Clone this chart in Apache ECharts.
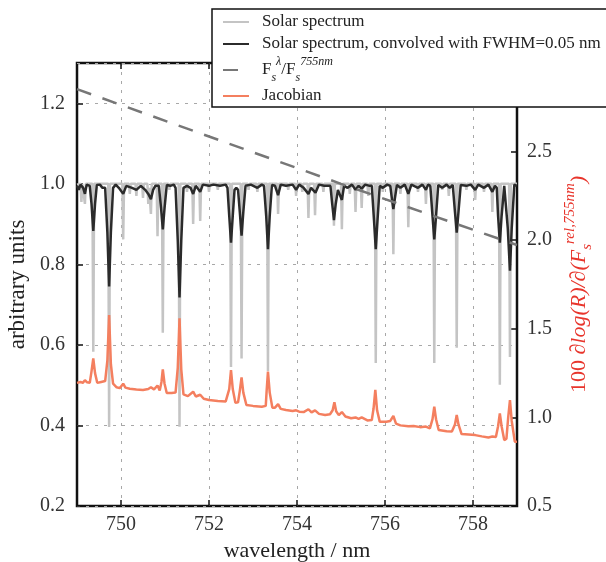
<!DOCTYPE html>
<html><head><meta charset="utf-8">
<script src="https://cdn.jsdelivr.net/npm/echarts@6/dist/echarts.min.js"></script>
<style>html,body{margin:0;padding:0;background:#fff}#c{width:606px;height:562px}</style>
</head><body><div id="c"></div>
<script>
// ---- data ----
const xTicks = [750, 752, 754, 756, 758];

// light grey: high-resolution solar spectrum [wavelength nm, arbitrary units]
const solarSpectrum = [
[749.0,0.998],[749.08,1.0],[749.10,0.955],[749.12,1.0],[749.16,1.0],[749.18,0.95],[749.20,1.0],
[749.35,1.0],[749.37,0.583],[749.39,1.0],[749.71,1.0],[749.73,0.396],[749.75,1.0],
[750.03,1.0],[750.05,0.862],[750.07,1.0],[750.18,1.0],[750.20,0.975],[750.22,1.0],
[750.33,1.0],[750.35,0.97],[750.37,1.0],[750.48,1.0],[750.50,0.965],[750.52,1.0],
[750.60,1.0],[750.62,0.95],[750.64,0.99],[750.68,0.925],[750.70,1.0],
[750.81,1.0],[750.83,0.87],[750.85,1.0],[750.93,1.0],[750.95,0.63],[750.97,1.0],
[751.08,1.0],[751.10,0.985],[751.12,1.0],[751.31,1.0],[751.33,0.397],[751.35,1.0],
[751.48,1.0],[751.50,0.98],[751.52,1.0],[751.62,1.0],[751.64,0.9],[751.66,1.0],
[751.78,1.0],[751.80,0.908],[751.82,1.0],[751.98,1.0],[752.00,0.98],[752.02,1.0],
[752.18,1.0],[752.20,0.985],[752.22,1.0],[752.48,1.0],[752.50,0.545],[752.52,1.0],
[752.72,1.0],[752.74,0.566],[752.76,1.0],[752.88,1.0],[752.90,0.985],[752.92,1.0],
[753.08,1.0],[753.10,0.98],[753.12,1.0],[753.32,1.0],[753.34,0.535],[753.36,1.0],
[753.55,1.0],[753.57,0.925],[753.59,1.0],[753.78,1.0],[753.80,0.985],[753.82,1.0],
[753.96,1.0],[753.98,0.97],[754.00,1.0],[754.10,1.0],[754.12,0.98],[754.14,1.0],
[754.24,1.0],[754.26,0.915],[754.28,1.0],[754.39,1.0],[754.41,0.922],[754.43,1.0],
[754.58,1.0],[754.60,0.98],[754.62,1.0],[754.82,1.0],[754.84,0.896],[754.86,1.0],
[755.00,1.0],[755.02,0.887],[755.04,1.0],[755.18,1.0],[755.20,0.975],[755.22,1.0],
[755.31,1.0],[755.33,0.93],[755.35,1.0],[755.45,1.0],[755.47,0.94],[755.49,1.0],
[755.60,1.0],[755.62,0.97],[755.64,1.0],[755.77,1.0],[755.79,0.555],[755.81,1.0],
[755.93,1.0],[755.95,0.98],[755.97,1.0],[756.17,1.0],[756.19,0.825],[756.21,1.0],
[756.33,1.0],[756.35,0.975],[756.37,1.0],[756.51,1.0],[756.53,0.892],[756.55,1.0],
[756.73,1.0],[756.75,0.98],[756.77,1.0],[756.91,1.0],[756.93,0.95],[756.95,1.0],
[757.10,1.0],[757.12,0.555],[757.14,1.0],[757.28,1.0],[757.30,0.985],[757.32,1.0],
[757.43,1.0],[757.45,0.97],[757.47,1.0],[757.61,1.0],[757.63,0.593],[757.65,1.0],
[757.83,1.0],[757.85,0.985],[757.87,1.0],[758.03,1.0],[758.05,0.96],[758.07,1.0],
[758.23,1.0],[758.25,0.98],[758.27,1.0],[758.42,1.0],[758.44,0.93],[758.46,1.0],
[758.59,1.0],[758.61,0.501],[758.63,1.0],[758.82,1.0],[758.84,0.57],[758.86,1.0],
[759.0,1.0]
];

// dark: solar spectrum convolved with FWHM = 0.05 nm
const convolvedSpectrum = [
[749.00,0.995],[749.04,0.985],[749.08,0.998],[749.14,0.99],[749.18,0.975],[749.22,0.998],
[749.29,0.995],[749.33,0.95],[749.37,0.883],[749.41,0.95],[749.45,0.997],
[749.52,0.998],[749.58,0.99],
[749.64,0.99],[749.69,0.88],[749.73,0.745],[749.77,0.88],[749.82,0.99],
[749.88,0.998],[749.95,0.99],[750.05,0.975],[750.12,0.995],[750.25,0.99],[750.35,0.985],
[750.45,0.995],[750.55,0.985],[750.62,0.975],[750.68,0.962],[750.73,0.985],[750.78,0.995],
[750.86,0.995],[750.91,0.94],[750.95,0.887],[750.99,0.94],[751.04,0.997],
[751.12,0.995],[751.20,0.998],
[751.24,0.99],[751.29,0.86],[751.33,0.718],[751.37,0.86],[751.42,0.99],
[751.50,0.995],[751.58,0.99],[751.64,0.975],[751.70,0.995],[751.80,0.98],[751.86,0.998],
[752.00,0.995],[752.10,0.998],[752.25,0.995],[752.38,0.998],
[752.42,0.99],[752.46,0.92],[752.50,0.854],[752.54,0.92],[752.58,0.985],[752.62,0.99],
[752.66,0.985],[752.70,0.93],[752.74,0.871],[752.78,0.93],[752.83,0.995],
[752.95,0.998],[753.10,0.99],[753.20,0.998],
[753.25,0.995],[753.30,0.92],[753.34,0.838],[753.38,0.92],[753.43,0.997],
[753.50,0.995],[753.57,0.972],[753.63,0.998],[753.75,0.995],[753.90,0.998],[753.98,0.985],
[754.05,0.998],[754.15,0.99],[754.26,0.975],[754.32,0.99],[754.42,0.978],[754.50,0.998],
[754.62,0.995],
[754.76,0.995],[754.80,0.95],[754.84,0.91],[754.88,0.95],[754.93,0.985],[755.02,0.96],
[755.07,0.995],[755.15,0.99],[755.25,0.998],[755.33,0.985],[755.40,0.995],[755.47,0.988],
[755.55,0.998],[755.65,0.995],
[755.70,0.995],[755.75,0.91],[755.79,0.838],[755.83,0.91],[755.88,0.995],
[755.95,0.99],[756.05,0.998],
[756.12,0.995],[756.16,0.96],[756.19,0.937],[756.22,0.96],[756.27,0.997],
[756.35,0.99],[756.45,0.998],[756.53,0.975],[756.60,0.998],[756.75,0.99],[756.85,0.998],
[756.93,0.985],[756.98,0.998],
[757.03,0.995],[757.08,0.92],[757.12,0.862],[757.16,0.92],[757.21,0.997],
[757.30,0.99],[757.40,0.998],[757.47,0.99],
[757.54,0.997],[757.59,0.93],[757.63,0.879],[757.67,0.93],[757.72,0.997],
[757.85,0.995],[757.95,0.998],[758.05,0.985],[758.12,0.998],[758.25,0.99],[758.35,0.998],
[758.44,0.98],[758.50,0.995],
[758.54,0.99],[758.57,0.92],[758.61,0.854],[758.65,0.92],[758.71,0.995],
[758.75,0.995],[758.79,0.89],[758.84,0.784],[758.88,0.89],[758.94,0.998],
[759.00,0.995]
];

// dashed: F_s(lambda)/F_s(755 nm)
const fluxRatio = [[749.0,1.235],[755.0,1.0],[759.0,0.848]];

// orange: Jacobian (right axis)
const jacobian = [
[749.00,1.195],[749.08,1.2],[749.13,1.195],[749.18,1.21],[749.23,1.198],[749.29,1.195],
[749.33,1.26],[749.37,1.333],[749.41,1.25],[749.46,1.195],[749.55,1.2],[749.64,1.205],
[749.69,1.32],[749.73,1.578],[749.77,1.30],[749.82,1.19],[749.90,1.17],[749.97,1.165],
[750.05,1.19],[750.10,1.168],[750.20,1.162],[750.35,1.157],[750.50,1.155],[750.62,1.16],
[750.68,1.17],[750.75,1.158],[750.83,1.18],[750.88,1.152],[750.92,1.2],[750.95,1.271],
[750.99,1.19],[751.04,1.138],[751.15,1.138],[751.24,1.14],[751.29,1.28],[751.33,1.559],
[751.37,1.27],[751.42,1.13],[751.52,1.12],[751.64,1.145],[751.70,1.118],[751.80,1.128],
[751.88,1.105],[752.00,1.098],[752.20,1.092],[752.38,1.09],[752.46,1.16],[752.50,1.267],
[752.54,1.16],[752.60,1.082],[752.66,1.085],[752.70,1.15],[752.74,1.226],[752.78,1.14],
[752.85,1.07],[753.00,1.065],[753.20,1.06],[753.29,1.065],[753.31,1.15],[753.34,1.258],
[753.38,1.14],[753.44,1.055],[753.50,1.055],[753.57,1.075],[753.63,1.048],[753.75,1.042],
[753.90,1.036],[753.98,1.04],[754.05,1.032],[754.15,1.03],[754.26,1.046],[754.33,1.028],
[754.41,1.04],[754.50,1.02],[754.64,1.013],[754.75,1.018],[754.81,1.04],[754.85,1.085],
[754.89,1.035],[754.95,1.013],[755.02,1.03],[755.10,1.005],[755.23,0.995],[755.33,1.0],
[755.40,0.992],[755.47,1.0],[755.60,0.983],[755.70,0.985],[755.74,1.05],[755.78,1.155],
[755.82,1.04],[755.88,0.976],[756.03,0.976],[756.12,0.98],[756.19,1.008],[756.25,0.965],
[756.35,0.955],[756.53,0.95],[756.65,0.952],[756.80,0.945],[756.93,0.948],[757.02,0.938],
[757.08,0.99],[757.12,1.06],[757.16,0.99],[757.22,0.929],[757.40,0.922],[757.52,0.92],
[757.59,0.96],[757.63,1.013],[757.67,0.96],[757.74,0.906],[757.90,0.903],[758.05,0.9],
[758.20,0.893],[758.35,0.887],[758.44,0.892],[758.52,0.89],[758.57,0.95],[758.61,1.023],
[758.65,0.95],[758.71,0.872],[758.76,0.88],[758.80,1.0],[758.84,1.098],[758.88,0.98],
[758.95,0.863],[759.00,0.862]
];

const seriesNames = ['Solar spectrum', 'Solar spectrum, convolved with FWHM=0.05 nm', 'ratio', 'Jacobian'];

// ---- chart ----
const FF = '"Liberation Serif", "DejaVu Serif", serif';
const RED = '#e8352c';
const gridStyle = { color: '#a8a8a8', width: 1, type: [3, 6] };

const chart = echarts.init(document.getElementById('c'), null, { renderer: 'canvas' });
chart.setOption({
  animation: false,
  backgroundColor: '#fff',
  grid: { left: 77, right: 89, top: 63, bottom: 56, show: true, borderColor: '#111', borderWidth: 2.5,
          backgroundColor: 'transparent', containLabel: false, outerBoundsMode: 'none' },
  legend: {
    orient: 'vertical', left: 212, top: 9,
    padding: [3, 60, 1, 10], itemGap: 2, itemWidth: 26, itemHeight: 14,
    backgroundColor: '#fff', borderColor: '#111', borderWidth: 1.5, borderRadius: 0,
    itemStyle: { opacity: 0 },
    data: seriesNames,
    formatter: function (name) {
      if (name === 'ratio') return '{n|F}{sb|s}{sp|λ}{n|/F}{sb|s}{sp|755nm}';
      return name;
    },
    textStyle: {
      fontFamily: FF, fontSize: 17, color: '#222', padding: [0, 0, 0, 8], lineHeight: 20,
      rich: {
        n: { fontFamily: FF, fontSize: 17, color: '#222', lineHeight: 28 },
        sp: { fontFamily: FF, fontSize: 12, fontStyle: 'italic', color: '#222', verticalAlign: 'top', lineHeight: 13 },
        sb: { fontFamily: FF, fontSize: 12, fontStyle: 'italic', color: '#222', verticalAlign: 'bottom', lineHeight: 13 }
      }
    }
  },
  xAxis: [{
    type: 'value', min: 749, max: 759, position: 'bottom',
    name: 'wavelength / nm', nameLocation: 'middle', nameGap: 33,
    nameTextStyle: { fontFamily: FF, fontSize: 22, color: '#222' },
    axisLine: { show: false },
    axisTick: { show: true, inside: true, length: 6, customValues: xTicks, lineStyle: { color: '#111', width: 1.5 } },
    axisLabel: { customValues: xTicks, fontFamily: FF, fontSize: 20, color: '#333', margin: 9 },
    splitLine: { show: true, lineStyle: gridStyle }
  }, {
    type: 'value', min: 749, max: 759, position: 'top',
    axisLine: { show: false },
    axisTick: { show: true, inside: true, length: 6, customValues: xTicks, lineStyle: { color: '#111', width: 1.5 } },
    axisLabel: { show: false },
    splitLine: { show: false }
  }],
  yAxis: [{
    type: 'value', min: 0.2, max: 1.3, interval: 0.2, position: 'left',
    name: 'arbitrary units', nameLocation: 'middle', nameGap: 40, nameRotate: 90,
    nameTextStyle: { fontFamily: FF, fontSize: 23, color: '#222' },
    axisLine: { show: false },
    axisTick: { show: true, inside: true, length: 6, lineStyle: { color: '#111', width: 1.5 } },
    axisLabel: { fontFamily: FF, fontSize: 20, color: '#333', margin: 12, showMaxLabel: false,
      formatter: function (v) { return v.toFixed(1); } },
    splitLine: { show: true, lineStyle: gridStyle }
  }, {
    type: 'value', min: 0.5, max: 3.0, interval: 0.5, position: 'right',
    name: '{r|100 }{ri|∂log(R)/∂(F}{rsb|s}{rsp|rel,755nm}{ri|)}',
    nameLocation: 'middle', nameGap: 44, nameRotate: 90,
    nameTextStyle: {
      fontFamily: FF, fontSize: 22, color: RED,
      rich: {
        r: { fontFamily: FF, fontSize: 22, color: RED, lineHeight: 32 },
        ri: { fontFamily: FF, fontSize: 22, fontStyle: 'italic', color: RED, lineHeight: 32 },
        rsp: { fontFamily: FF, fontSize: 15, fontStyle: 'italic', color: RED, verticalAlign: 'top', lineHeight: 14 },
        rsb: { fontFamily: FF, fontSize: 15, fontStyle: 'italic', color: RED, verticalAlign: 'bottom', lineHeight: 14 }
      }
    },
    axisLine: { show: false },
    axisTick: { show: true, inside: true, length: 6, lineStyle: { color: '#111', width: 1.5 } },
    axisLabel: { fontFamily: FF, fontSize: 20, color: '#333', margin: 10, showMaxLabel: false,
      formatter: function (v) { return v.toFixed(1); } },
    splitLine: { show: false }
  }],
  series: [
    { name: seriesNames[0], type: 'line', data: solarSpectrum, symbol: 'none', xAxisIndex: 0, yAxisIndex: 0,
      lineStyle: { color: '#c4c4c4', width: 2.5 }, itemStyle: { color: '#c4c4c4' }, z: 2 },
    { name: seriesNames[1], type: 'line', data: convolvedSpectrum, symbol: 'none', xAxisIndex: 0, yAxisIndex: 0,
      lineStyle: { color: '#2b2b2b', width: 2.5 }, itemStyle: { color: '#2b2b2b' }, z: 3 },
    { name: seriesNames[2], type: 'line', data: fluxRatio, symbol: 'none', xAxisIndex: 0, yAxisIndex: 0,
      lineStyle: { color: '#777', width: 2.5, type: [15, 12] }, itemStyle: { color: '#777' }, z: 4 },
    { name: seriesNames[3], type: 'line', data: jacobian, symbol: 'none', xAxisIndex: 0, yAxisIndex: 1,
      lineStyle: { color: '#f47f5f', width: 2.5 }, itemStyle: { color: '#f47f5f' }, z: 5 }
  ]
});
</script>
</body></html>
